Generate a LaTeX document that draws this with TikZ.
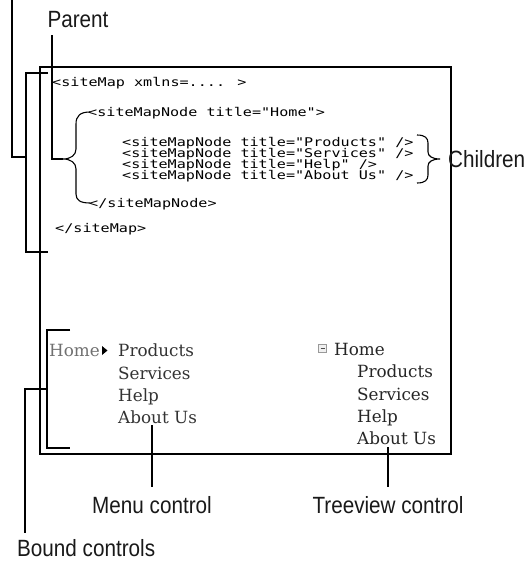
\documentclass[tikz,border=0pt]{standalone}
\usepackage{fontspec}
\setmainfont{Liberation Sans}
\newfontfamily\lblfont[FakeStretch=0.88]{Liberation Sans}
\newfontfamily\codefont[FakeStretch=1.26]{DejaVu Sans Mono}
\newfontfamily\uifont{DejaVu Serif}
\definecolor{uigray}{HTML}{333333}
\definecolor{uilight}{HTML}{707070}
\begin{document}
\begin{tikzpicture}[x=1pt,y=-1pt,
  code/.style={font=\codefont\fontsize{12}{12}\selectfont, inner sep=0pt, anchor=base west},
  ui/.style={font=\uifont\fontsize{16.8}{16.8}\selectfont, inner sep=0pt, anchor=base west, text=uigray},
  lbl/.style={font=\lblfont\fontsize{23.5}{23.5}\selectfont, inner sep=0pt, anchor=base, text=black!90},
  ln/.style={line width=1.1pt, black},
  frame/.style={line width=1.1pt, black}]
\useasboundingbox (0,0) rectangle (529,562);

% main frame
\draw[frame] (40,67) rectangle (451,454);

% code text
\node[code] (l1) at (52,86) {<siteMap xmlns=.... >};
\node[code] (l2) at (88,116) {<siteMapNode title="Home">};
\node[code] (c1) at (122,146) {<siteMapNode title="Products" />};
\node[code] (c2) at (122,157) {<siteMapNode title="Services" />};
\node[code] (c3) at (122,168) {<siteMapNode title="Help" />};
\node[code] (c4) at (122,179) {<siteMapNode title="About Us" />};
\node[code] (l7) at (89,207) {</siteMapNode>};
\node[code] (l8) at (55,232) {</siteMap>};

% labels
\node[lbl] (parent) at (78,27.4) {Parent};
\node[lbl, anchor=base west] (children) at (448,167.4) {Children};
\node[lbl] (menuc) at (152,513.4) {Menu control};
\node[lbl] (treec) at (388,513.4) {Treeview control};
\node[lbl, anchor=base west] (bound) at (17,556) {Bound controls};

% Parent connector and brace
\coordinate (pTop) at (52,35);
\coordinate (pCorner) at (52,159);
\coordinate (pTip) at (63,159);
\draw[ln] (pTop) -- (pCorner) -- (pTip);
\coordinate (bTop) at (90,112);
\coordinate (bBot) at (90,203);
\draw[ln] (bTop) .. controls (80,112) and (76,116) .. (76,124) -- (76,149)
  .. controls (76,155) and (71,159) .. (pTip)
  .. controls (71,159) and (76,163) .. (76,169) -- (76,194)
  .. controls (76,200) and (80,203) .. (bBot);

% Children brace
\coordinate (cTop) at (417,135);
\coordinate (cBot) at (417,183);
\coordinate (cTip) at (440,159);
\draw[ln] (cTop) .. controls (425,135) and (428,138) .. (428,143) -- (428,152)
  .. controls (428,156) and (432,159) .. (cTip)
  .. controls (432,159) and (428,162) .. (428,166) -- (428,175)
  .. controls (428,180) and (425,183) .. (cBot);

% outer siteMap bracket
\coordinate (oTopEnd) at (48,73);
\coordinate (oTop) at (26,73);
\coordinate (oBot) at (26,252);
\coordinate (oBotEnd) at (48,252);
\coordinate (oMid) at (26,157);
\coordinate (oLeft) at (12,157);
\coordinate (oUp) at (12,0);
\draw[ln] (oTopEnd) -- (oTop) -- (oBot) -- (oBotEnd);
\draw[ln] (oMid) -- (oLeft) -- (oUp);

% menu control
\node[ui, text=uilight] (mhome) at (49,356) {Home};
\coordinate (a1) at (102,346);
\coordinate (a2) at (102,355);
\coordinate (a3) at (107.5,350.5);
\fill[black] (a1) -- (a2) -- (a3) -- cycle;
\node[ui] (m1) at (118,356) {Products};
\node[ui] (m2) at (118,379) {Services};
\node[ui] (m3) at (118,401) {Help};
\node[ui] (m4) at (118,423) {About Us};
\coordinate (mTop) at (152,425);
\coordinate (mBot) at (152,487);
\draw[ln] (mTop) -- (mBot);

% treeview control
\node[draw=gray!80, fill=gray!12, line width=0.6pt, minimum size=8.5pt, inner sep=0pt] (minus) at (322.5,348.5) {};
\draw[line width=1pt, gray!60!black] ([xshift=-2pt]minus.center) -- ([xshift=2pt]minus.center);
\node[ui, text=black!85] (thome) at (334,355) {Home};
\node[ui, text=black!85] (t1) at (357,377) {Products};
\node[ui, text=black!85] (t2) at (357,400) {Services};
\node[ui, text=black!85] (t3) at (357,422) {Help};
\node[ui, text=black!85] (t4) at (357,444) {About Us};
\coordinate (tTop) at (388,447);
\coordinate (tBot) at (388,487);
\draw[ln] (tTop) -- (tBot);

% bound controls bracket
\coordinate (gTopEnd) at (70,330);
\coordinate (gTop) at (47,330);
\coordinate (gBot) at (47,448);
\coordinate (gBotEnd) at (70,448);
\coordinate (gMid) at (47,389);
\coordinate (gLeft) at (25,389);
\coordinate (gDown) at (25,533);
\draw[ln] (gTopEnd) -- (gTop) -- (gBot) -- (gBotEnd);
\draw[ln] (gMid) -- (gLeft) -- (gDown);
\end{tikzpicture}
\end{document}
